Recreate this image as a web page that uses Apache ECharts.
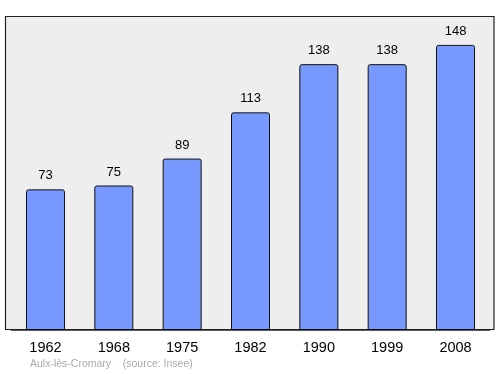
<!DOCTYPE html>
<html>
<head>
<meta charset="utf-8">
<script src="https://cdn.jsdelivr.net/npm/echarts@6/dist/echarts.min.js"></script>
<style>html,body{margin:0;padding:0;background:#fff}#c{width:500px;height:374px}</style>
</head>
<body>
<div id="c"></div>
<script>
const years = ['1962','1968','1975','1982','1990','1999','2008'];
const population = [73, 75, 89, 113, 138, 138, 148];
const sourceText = 'Aulx-lès-Cromary    (source: Insee)';

const chart = echarts.init(document.getElementById('c'), null, {renderer: 'canvas'});
chart.setOption({
  animation: false,
  backgroundColor: '#ffffff',
  graphic: [
    {type: 'rect', z: -10, shape: {x: 5.5, y: 16.5, width: 488.5, height: 313}, style: {fill: '#eeeeee', stroke: '#222222', lineWidth: 1.2}},
    {type: 'text', left: 30, top: 358.5, style: {text: sourceText, fill: '#aaaaaa', font: '10.5px "Liberation Sans", Arial, sans-serif'}}
  ],
  grid: {left: 11.3, right: 10.3, top: 16, bottom: 44, containLabel: false},
  xAxis: {
    type: 'category', data: years,
    axisLine: {show: true, lineStyle: {color: '#222222', width: 1.5}},
    axisTick: {show: false},
    axisLabel: {color: '#000', fontSize: 14.5, margin: 10, fontFamily: 'Liberation Sans'}
  },
  yAxis: {type: 'value', min: 0, max: 163, show: false, splitLine: {show: false}},
  series: [{
    type: 'bar', data: population, barWidth: 39,
    itemStyle: {color: '#7799ff', borderColor: '#111111', borderWidth: 1, borderRadius: [2,2,0,0]},
    label: {show: true, position: 'top', distance: 7, color: '#000', fontSize: 13, fontFamily: 'Liberation Sans'}
  }]
});
</script>
</body>
</html>
